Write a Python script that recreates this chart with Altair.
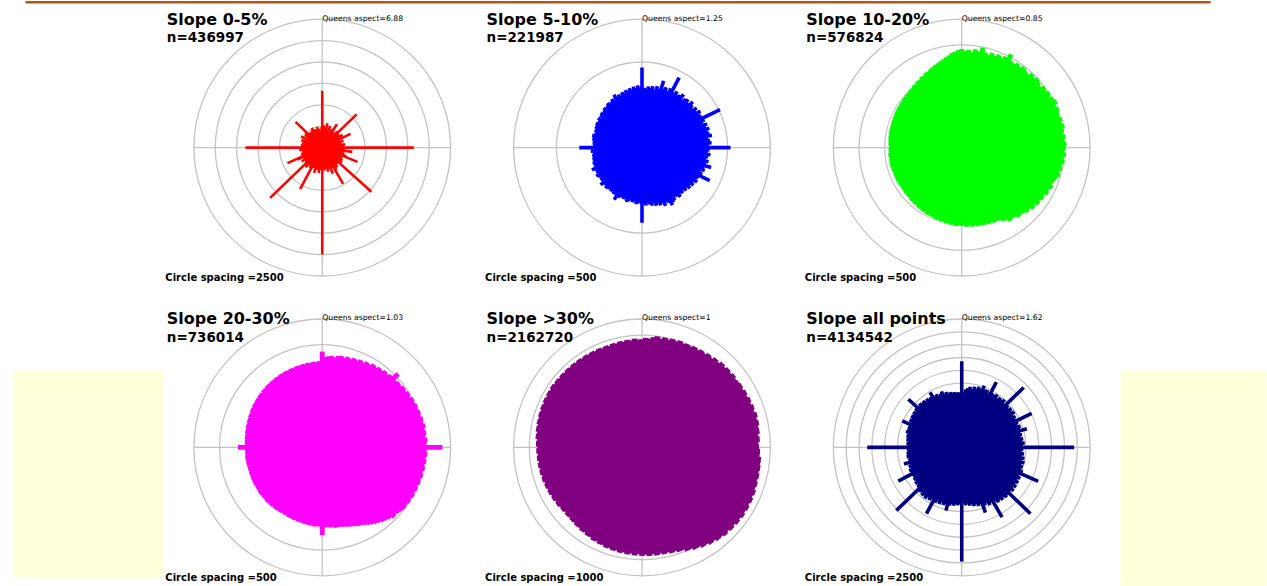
import math
import altair as alt
import pandas as pd

# Aspect rose diagrams: one spoke per 2-degree aspect bin, length = cell count
ANGLES = list(range(0, 360, 2))

TITLES = ["Slope 0-5%", "Slope 5-10%", "Slope 10-20%",
          "Slope 20-30%", "Slope >30%", "Slope all points"]
N_LABELS = ["436997", "221987", "576824", "736014", "2162720", "4134542"]
QUEENS = ["6.88", "1.25", "0.85", "1.03", "1", "1.62"]
SPACINGS = [2500, 500, 500, 500, 1000, 2500]
RINGS = [6, 3, 5, 5, 8, 10]

SLOPE_0_5 = [
    6630, 1900, 2600, 1500, 2100, 1700, 2900, 1600, 2200, 1800, 2700, 1500, 2000, 1700, 2400,
    1800, 3240, 1600, 2100, 1500, 2300, 1900, 2600, 5580, 2200, 1700, 2500, 1600, 2000, 2800,
    1700, 2300, 3670, 1800, 2200, 1600, 2600, 1900, 2300, 1700, 2100, 2700, 1800, 2200, 2500,
    10700, 2400, 1900, 2600, 3550, 2000, 2400, 1800, 2700, 2100, 3000, 4450, 2300, 1900, 2600,
    2000, 2800, 1700, 2400, 2900, 2000, 7720, 2300, 1800, 2600, 2100, 2900, 1900, 2500, 3100,
    4880, 2300, 2700, 1900, 3300, 2200, 2600, 1800, 2900, 2100, 2400, 1800, 2700, 2000, 2500,
    12480, 2400, 1900, 2600, 3000, 2100, 2700, 1800, 2400, 3100, 2200, 2600, 1900, 2300, 5500,
    2100, 2800, 1900, 2500, 2100, 3000, 2200, 2700, 8460, 2400, 1900, 2600, 2000, 2900, 2200,
    2500, 1900, 3200, 4450, 2300, 1800, 2600, 2000, 2400, 1700, 2300, 1900, 2700, 2000, 2500,
    8970, 2300, 1800, 2500, 1900, 2200, 1600, 2400, 1800, 2100, 2600, 1700, 2200, 1900, 2800,
    1600, 2100, 1800, 2500, 1700, 2200, 2700, 4330, 2000, 1600, 2300, 1800, 2100, 1500, 2400,
    1900, 2600, 1700, 2000, 2300, 1600, 2100, 1800, 2500, 1700, 2200, 1500, 2000, 1700, 2400,
]
SLOPE_5_10 = [
    936, 700, 690, 720, 705, 730, 695, 740, 715, 820, 735, 760, 725, 770, 925,
    745, 775, 740, 760, 790, 735, 765, 780, 750, 800, 770, 745, 790, 765, 805,
    775, 790, 1014, 800, 770, 810, 785, 820, 790, 805, 830, 780, 800, 815, 785,
    1034, 790, 770, 805, 780, 760, 795, 770, 840, 765, 780, 745, 770, 881, 750,
    735, 760, 725, 745, 710, 735, 700, 720, 690, 715, 700, 730, 705, 690, 725,
    740, 760, 715, 700, 735, 690, 710, 680, 700, 665, 690, 670, 650, 680, 660,
    878, 655, 640, 665, 630, 650, 625, 645, 660, 620, 640, 615, 635, 650, 690,
    620, 640, 610, 630, 600, 625, 640, 605, 620, 650, 600, 615, 590, 610, 630,
    595, 610, 580, 640, 600, 585, 605, 575, 595, 570, 590, 560, 580, 600, 565,
    733, 575, 555, 580, 565, 590, 570, 600, 580, 560, 590, 575, 600, 585, 610,
    580, 600, 620, 590, 615, 630, 605, 625, 645, 615, 640, 660, 630, 650, 670,
    645, 700, 660, 680, 650, 690, 670, 700, 680, 710, 690, 720, 700, 730, 710,
]
SLOPE_10_20 = [
    1918, 1880, 1905, 1870, 1930, 1895, 1990, 1910, 1885, 1935, 1900, 1950, 1920, 1965, 2055,
    1950, 1925, 1970, 1940, 1985, 1955, 1930, 1990, 1960, 2000, 1975, 1945, 2005, 1980, 2020,
    1990, 2030, 2060, 2000, 2040, 2010, 1995, 2035, 2005, 2045, 2015, 1990, 2030, 2005, 2040,
    2028, 2000, 2035, 1995, 2020, 1975, 2000, 1960, 1985, 1945, 1920, 1895, 1930, 1880, 1905,
    1850, 1875, 1830, 1860, 1810, 1835, 1780, 1800, 1760, 1735, 1755, 1710, 1690, 1715, 1660,
    1640, 1600, 1575, 1595, 1560, 1580, 1550, 1570, 1540, 1560, 1530, 1555, 1520, 1545, 1515,
    1528, 1505, 1530, 1495, 1520, 1485, 1505, 1475, 1495, 1465, 1490, 1455, 1475, 1445, 1470,
    1440, 1460, 1430, 1450, 1420, 1440, 1410, 1435, 1405, 1425, 1400, 1420, 1395, 1415, 1400,
    1425, 1405, 1430, 1410, 1425, 1400, 1430, 1410, 1440, 1415, 1430, 1405, 1435, 1410, 1425,
    1417, 1400, 1430, 1410, 1440, 1420, 1445, 1425, 1450, 1430, 1455, 1435, 1460, 1440, 1470,
    1450, 1475, 1455, 1480, 1465, 1490, 1475, 1500, 1485, 1520, 1505, 1540, 1525, 1565, 1550,
    1590, 1575, 1625, 1610, 1650, 1670, 1690, 1710, 1735, 1760, 1790, 1815, 1850, 1875, 1900,
]
SLOPE_20_30 = [
    1865, 1760, 1775, 1790, 1770, 1805, 1820, 1795, 1830, 1810, 1845, 1825, 1860, 1840, 1880,
    1860, 1905, 1880, 1915, 1895, 1930, 1910, 1945, 2054, 1935, 1960, 1945, 1980, 1960, 1995,
    1975, 2010, 1990, 2025, 2000, 2030, 2010, 2040, 2020, 2050, 2025, 2045, 2020, 2055, 2030,
    2340, 2035, 2050, 2025, 2045, 2020, 2040, 2015, 2035, 2010, 2030, 2005, 2025, 2000, 2020,
    1995, 2010, 1985, 2000, 1983, 1960, 1940, 1955, 1915, 1890, 1870, 1840, 1815, 1790, 1760,
    1735, 1705, 1690, 1670, 1650, 1635, 1620, 1600, 1590, 1575, 1585, 1560, 1570, 1550, 1560,
    1710, 1545, 1530, 1550, 1520, 1540, 1515, 1530, 1505, 1525, 1500, 1520, 1495, 1515, 1490,
    1505, 1485, 1510, 1490, 1515, 1495, 1520, 1500, 1525, 1505, 1515, 1495, 1520, 1500, 1510,
    1490, 1515, 1495, 1510, 1490, 1505, 1485, 1500, 1480, 1505, 1490, 1510, 1485, 1500, 1490,
    1640, 1495, 1510, 1500, 1520, 1505, 1530, 1515, 1540, 1525, 1550, 1535, 1560, 1545, 1575,
    1560, 1585, 1570, 1595, 1580, 1605, 1590, 1615, 1600, 1625, 1610, 1630, 1615, 1640, 1625,
    1645, 1630, 1650, 1635, 1655, 1640, 1660, 1645, 1665, 1650, 1670, 1655, 1675, 1660, 1680,
]
SLOPE_30_UP = [
    6740, 6830, 6790, 6900, 6980, 6880, 6990, 6920, 7030, 6950, 7060, 6960, 7040, 6980, 7090,
    7000, 7110, 7030, 7160, 7070, 7210, 7120, 7280, 7180, 7290, 7200, 7310, 7210, 7270, 7330,
    7240, 7360, 7270, 7390, 7300, 7420, 7330, 7460, 7360, 7440, 7350, 7390, 7280, 7350, 7260,
    7290, 7360, 7340, 7450, 7420, 7480, 7430, 7510, 7450, 7540, 7490, 7600, 7520, 7630, 7550,
    7640, 7560, 7650, 7540, 7620, 7510, 7590, 7480, 7560, 7450, 7480, 7350, 7400, 7260, 7290,
    7150, 7160, 7020, 7040, 6890, 6900, 6790, 6840, 6740, 6800, 6720, 6790, 6700, 6780, 6690,
    6760, 6660, 6750, 6650, 6730, 6630, 6710, 6610, 6680, 6580, 6650, 6540, 6600, 6490, 6560,
    6440, 6500, 6390, 6450, 6350, 6400, 6300, 6360, 6270, 6340, 6260, 6350, 6290, 6400, 6330,
    6440, 6370, 6480, 6410, 6510, 6440, 6540, 6460, 6560, 6480, 6570, 6490, 6580, 6500, 6590,
    6520, 6610, 6560, 6660, 6600, 6700, 6640, 6730, 6670, 6760, 6690, 6780, 6710, 6800, 6720,
    6810, 6730, 6820, 6740, 6800, 6720, 6790, 6710, 6780, 6700, 6770, 6690, 6760, 6680, 6750,
    6670, 6740, 6660, 6730, 6650, 6720, 6650, 6730, 6660, 6750, 6680, 6770, 6700, 6790, 6720,
]
SLOPE_ALL = [
    16770, 10700, 11300, 11600, 11900, 11500, 12100, 11800, 12300, 11900, 12800, 12100, 12300, 11900, 14370,
    12200, 12000, 12400, 11800, 12300, 12100, 12500, 11900, 16770, 12200, 11800, 12300, 11900, 12400, 11700,
    12100, 11800, 15150, 12000, 11600, 12200, 11900, 13200, 11700, 12000, 11600, 12100, 11800, 12300, 11900,
    21900, 12000, 11700, 12200, 11800, 12400, 12000, 12600, 12100, 12500, 12200, 12800, 16300, 12400, 12900,
    12500, 13000, 12600, 13100, 12700, 13200, 12800, 18600, 12900, 13100, 12700, 13000, 12600, 12900, 12400,
    15700, 12200, 12500, 11900, 12200, 13500, 11700, 11900, 11400, 11700, 11200, 11500, 11000, 11300, 10900,
    22230, 11000, 11300, 11100, 11500, 11200, 11600, 12700, 11500, 11800, 11400, 11900, 11500, 12000, 14600,
    11700, 12100, 11800, 12300, 11900, 12200, 11700, 12000, 17700, 11600, 11200, 11500, 11000, 11300, 10800,
    11100, 14000, 10900, 11200, 10700, 11000, 10600, 11700, 10700, 10500, 10900, 10600, 10800, 10500, 10700,
    18400, 10600, 10800, 10500, 10900, 10700, 11000, 10800, 11300, 10900, 11200, 11000, 12700, 11100, 11500,
    11200, 11600, 11300, 11700, 11400, 11800, 14000, 11500, 11900, 11600, 11800, 11400, 11700, 11300, 11600,
    12350, 11200, 11500, 11000, 11300, 11600, 10900, 11200, 10800, 11000, 10700, 10900, 10600, 10800, 10500,
]
COUNTS = [SLOPE_0_5, SLOPE_5_10, SLOPE_10_20, SLOPE_20_30, SLOPE_30_UP, SLOPE_ALL]

# styling
COLORS = ["#ff0000", "#0000ff", "#00ff00", "#ff00ff", "#800080", "#000080"]
SPOKE_W = [2.6, 3.6, 4.8, 4.8, 5.6, 3.6]
GRID = "#c3c3c3"
FONT = "DejaVu Sans"
R_PX = 128.5          # outer ring radius in pixels
SIDE = 2 * R_PX       # each rose view is a square around the outer ring


def rose(i, decor=None):
    outer = SPACINGS[i] * RINGS[i]
    xs = alt.Scale(domain=[-outer, outer], nice=False, zero=False)
    ys = alt.Scale(domain=[-outer, outer], nice=False, zero=False)
    rs = alt.Scale(type="linear", domain=[0, outer], range=[0, R_PX], nice=False, zero=True)

    rings = pd.DataFrame({"r": [SPACINGS[i] * (k + 1) for k in range(RINGS[i])]})
    ring_layer = alt.Chart(rings).mark_arc(
        filled=False, stroke=GRID, strokeWidth=1.3, theta=0, theta2=2 * math.pi
    ).encode(radius=alt.Radius("r:Q", scale=rs, stack=None))

    cross = pd.DataFrame({"x1": [-outer, 0], "x2": [outer, 0], "y1": [0, -outer], "y2": [0, outer]})
    cross_layer = alt.Chart(cross).mark_rule(color=GRID, strokeWidth=1.3).encode(
        x=alt.X("x1:Q", scale=xs, axis=None), x2="x2:Q",
        y=alt.Y("y1:Q", scale=ys, axis=None), y2="y2:Q",
    )

    spokes = pd.DataFrame({"angle": ANGLES, "count": COUNTS[i]})
    spoke_layer = alt.Chart(spokes).transform_calculate(
        tip_x="datum.count * sin(datum.angle * PI / 180)",
        tip_y="datum.count * cos(datum.angle * PI / 180)",
        hub="0",
    ).mark_rule(color=COLORS[i], strokeWidth=SPOKE_W[i], strokeCap="butt").encode(
        x=alt.X("hub:Q", scale=xs, axis=None), x2="tip_x:Q",
        y=alt.Y("hub:Q", scale=ys, axis=None), y2="tip_y:Q",
    )

    labels = pd.DataFrame({
        "title": [TITLES[i]],
        "n": ["n=" + N_LABELS[i]],
        "q": ["Queens aspect=" + QUEENS[i]],
        "s": ["Circle spacing =" + str(SPACINGS[i])],
    })

    def txt(field, x, y, size, weight):
        return alt.Chart(labels).mark_text(
            align="left", baseline="alphabetic", font=FONT,
            fontSize=size, fontWeight=weight, color="black",
        ).encode(text=f"{field}:N", x=alt.value(x), y=alt.value(y))

    layers = []
    if decor is not None:
        layers.append(decor)
    layers += [
        ring_layer, cross_layer, spoke_layer,
        txt("title", -27, 5.3, 16, "bold"),
        txt("n", -27, 22.8, 13.5, "bold"),
        txt("q", R_PX, 1.3, 7.7, "normal"),
        txt("s", -28.5, 261.8, 10, "bold"),
    ]
    return alt.layer(*layers).properties(width=SIDE, height=SIDE)


def band(x0, x1, y0, y1, color):
    one = pd.DataFrame({"k": [0]})
    return alt.Chart(one).mark_rect(color=color).encode(
        x=alt.value(x0), x2=alt.value(x1), y=alt.value(y0), y2=alt.value(y1)
    )


# slide decorations around the grid
top_bar = band(-168.5, 1017.5, -18.2, -15.7, "#a8581c")
left_pad = band(-180.5, -30.5, 51.8, 258.8, "#ffffd9")
right_pad = band(287.5, 433.5, 51.8, 266.8, "#ffffd9")

COL_GAP = 320 - SIDE
ROW_GAP = 300 - SIDE

panels = [rose(0, top_bar), rose(1), rose(2), rose(3, left_pad), rose(4), rose(5, right_pad)]

chart = alt.concat(
    *panels, columns=3, spacing={"row": ROW_GAP, "column": COL_GAP}, bounds="flush"
).properties(
    padding={"left": 13, "top": 0, "right": 0, "bottom": 0},
    background="white",
).resolve_scale(x="independent", y="independent", radius="independent").configure_view(
    stroke="transparent"
)

chart.save("out.html", embed_options={"renderer": "svg", "actions": False})
